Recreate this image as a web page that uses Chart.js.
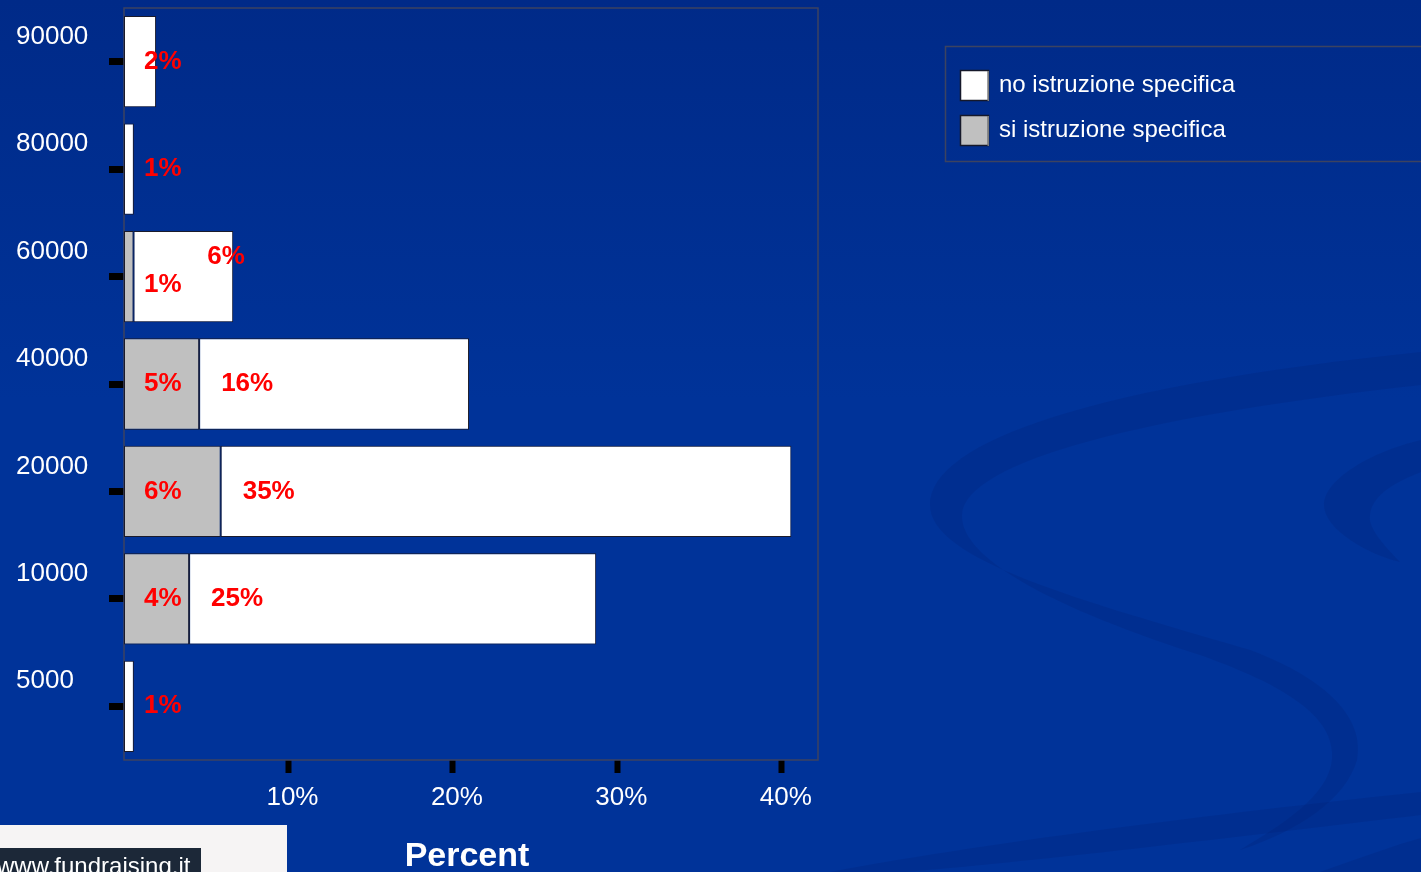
<!DOCTYPE html>
<html>
<head>
<meta charset="utf-8">
<title>Percent</title>
<script src="https://cdn.jsdelivr.net/npm/chart.js@4/dist/chart.umd.min.js"></script>
<style>
    html, body { margin: 0; padding: 0; overflow: hidden; background: #003399; }
    canvas { display: block; }
</style>
</head>
<body>
<canvas id="percentChart" width="1421" height="872"></canvas>
<script>
// values, in percent
const categories = ['90000', '80000', '60000', '40000', '20000', '10000', '5000'];
const siIstruzione = [0, 0, 0.58, 4.57, 5.88, 3.96, 0];
const noIstruzione = [1.95, 0.6, 6.06, 16.41, 34.7, 24.75, 0.6];
const xTickValues = [10, 20, 30, 40];
const seriesNames = ['si istruzione specifica', 'no istruzione specifica'];

const FONT = '"Liberation Sans", Arial, sans-serif';

// blue slide background with the faint swooshes
const slideBackground = {
    id: 'slideBackground',
    beforeDraw(chart) {
        const ctx = chart.ctx;
        ctx.save();
        const g = ctx.createLinearGradient(0, 0, 0, 400);
        g.addColorStop(0, '#002a88');
        g.addColorStop(1, '#003399');
        ctx.fillStyle = g;
        ctx.fillRect(0, 0, chart.width, chart.height);

        ctx.fillStyle = 'rgba(0, 30, 110, 0.2)';
        ctx.beginPath();
        ctx.moveTo(1421, 352);
        ctx.bezierCurveTo(1100, 385, 930, 440, 930, 505);
        ctx.bezierCurveTo(930, 560, 1080, 600, 1250, 650);
        ctx.bezierCurveTo(1330, 680, 1365, 720, 1357, 760);
        ctx.bezierCurveTo(1345, 800, 1300, 830, 1240, 850);
        ctx.bezierCurveTo(1290, 820, 1335, 790, 1332, 752);
        ctx.bezierCurveTo(1330, 710, 1270, 680, 1200, 655);
        ctx.bezierCurveTo(1060, 610, 960, 560, 962, 515);
        ctx.bezierCurveTo(965, 460, 1150, 415, 1421, 385);
        ctx.closePath();
        ctx.fill();

        ctx.beginPath();
        ctx.moveTo(1421, 440);
        ctx.bezierCurveTo(1370, 452, 1324, 480, 1324, 505);
        ctx.bezierCurveTo(1324, 530, 1370, 555, 1400, 562);
        ctx.bezierCurveTo(1378, 540, 1368, 525, 1370, 515);
        ctx.bezierCurveTo(1372, 495, 1395, 482, 1421, 472);
        ctx.closePath();
        ctx.fill();

        ctx.beginPath();
        ctx.moveTo(830, 872);
        ctx.bezierCurveTo(1000, 840, 1250, 810, 1421, 792);
        ctx.lineTo(1421, 815);
        ctx.bezierCurveTo(1250, 835, 1050, 860, 905, 872);
        ctx.closePath();
        ctx.fill();

        ctx.beginPath();
        ctx.moveTo(1320, 872);
        ctx.bezierCurveTo(1360, 858, 1395, 845, 1421, 838);
        ctx.lineTo(1421, 872);
        ctx.closePath();
        ctx.fill();
        ctx.restore();
    },
    beforeDatasetsDraw(chart) {
        const { ctx, chartArea } = chart;
        ctx.save();
        ctx.strokeStyle = '#3c4360';
        ctx.lineWidth = 1.5;
        ctx.strokeRect(chartArea.left, chartArea.top, chartArea.right - chartArea.left, chartArea.bottom - chartArea.top);
        ctx.restore();
    }
};

// red percentage labels inside the bars
const valueLabels = {
    id: 'valueLabels',
    afterDatasetsDraw(chart) {
        const ctx = chart.ctx;
        const greyMeta = chart.getDatasetMeta(0);
        const whiteMeta = chart.getDatasetMeta(1);
        ctx.save();
        ctx.fillStyle = '#ff0000';
        ctx.font = 'bold 26px ' + FONT;
        ctx.textAlign = 'left';
        ctx.textBaseline = 'middle';
        categories.forEach((cat, i) => {
            const grey = greyMeta.data[i].getProps(['x', 'y', 'base'], true);
            const white = whiteMeta.data[i].getProps(['x', 'y', 'base'], true);
            const tight = siIstruzione[i] > 0 && Math.abs(grey.x - grey.base) < 20;
            if (siIstruzione[i] > 0) {
                ctx.fillText(Math.round(siIstruzione[i]) + '%', Math.min(grey.x, grey.base) + 20, grey.y + (tight ? 8 : 0));
            }
            if (noIstruzione[i] > 0) {
                const left = Math.min(white.x, white.base);
                const x = tight ? Math.max(white.x, white.base) - 26 : (siIstruzione[i] > 0 ? left + 22 : left + 20);
                ctx.fillText(Math.round(noIstruzione[i]) + '%', x, white.y + (tight ? -20 : 0));
            }
        });
        ctx.restore();
    }
};

// legend box, axis title and the logo strip
const slideExtras = {
    id: 'slideExtras',
    afterDraw(chart) {
        const ctx = chart.ctx;
        ctx.save();

        ctx.strokeStyle = '#3c4360';
        ctx.lineWidth = 1.5;
        ctx.strokeRect(945.5, 46.5, 520, 115);

        const rows = [1, 0];
        rows.forEach((d, r) => {
            const ds = chart.data.datasets[d];
            const top = 70 + r * 45;
            ctx.fillStyle = ds.backgroundColor;
            ctx.fillRect(960, top, 29, 31);
            ctx.strokeStyle = '#15182a';
            ctx.lineWidth = 1.5;
            ctx.strokeRect(960.5, top + 0.5, 28, 30);
            ctx.fillStyle = '#7a7a7a';
            ctx.fillRect(987.5, top + 1, 1.5, 30);
            ctx.fillStyle = '#ffffff';
            ctx.font = '24px ' + FONT;
            ctx.textAlign = 'left';
            ctx.textBaseline = 'alphabetic';
            ctx.fillText(ds.label, 999, top + 22);
        });

        ctx.fillStyle = '#ffffff';
        ctx.font = 'bold 34px ' + FONT;
        ctx.textAlign = 'center';
        ctx.textBaseline = 'alphabetic';
        ctx.fillText('Percent', 467, 866);

        ctx.fillStyle = '#f6f4f4';
        ctx.fillRect(0, 825, 287, 47);
        ctx.fillStyle = '#1c2838';
        ctx.fillRect(0, 848, 201, 24);
        ctx.fillStyle = '#ffffff';
        ctx.font = '24px ' + FONT;
        ctx.textAlign = 'left';
        ctx.fillText('www.fundraising.it', -3, 874);
        ctx.restore();
    }
};

const ctx = document.getElementById('percentChart').getContext('2d');
const percentChart = new Chart(ctx, {
    type: 'bar',
    data: {
        labels: categories,
        datasets: [{
            label: seriesNames[0],
            data: siIstruzione,
            backgroundColor: '#c0c0c0',
            borderColor: '#1b1b2b',
            borderWidth: 1,
            borderSkipped: false,
            barPercentage: 0.85,
            categoryPercentage: 1
        }, {
            label: seriesNames[1],
            data: noIstruzione,
            backgroundColor: '#ffffff',
            borderColor: '#1b1b2b',
            borderWidth: 1,
            borderSkipped: false,
            barPercentage: 0.85,
            categoryPercentage: 1
        }]
    },
    options: {
        indexAxis: 'y',
        responsive: false,
        animation: false,
        devicePixelRatio: 1,
        layout: {
            padding: { left: 16, top: 8, right: 603, bottom: 0 }
        },
        plugins: {
            legend: { display: false },
            tooltip: { enabled: false }
        },
        scales: {
            x: {
                type: 'linear',
                stacked: true,
                min: 0,
                max: 42.2,
                border: { display: false },
                grid: {
                    drawOnChartArea: false,
                    drawTicks: true,
                    tickLength: 13,
                    tickWidth: 6,
                    tickColor: '#000000'
                },
                ticks: {
                    stepSize: 10,
                    includeBounds: false,
                    color: '#ffffff',
                    font: { family: FONT, size: 26 },
                    padding: 9,
                    labelOffset: 4,
                    maxRotation: 0,
                    callback: v => v + '%'
                },
                afterBuildTicks: axis => {
                    axis.ticks = xTickValues.map(v => ({ value: v }));
                },
                afterFit: axis => {
                    axis.height = 112;
                    axis.paddingLeft = 0;
                    axis.paddingRight = 0;
                }
            },
            y: {
                stacked: true,
                border: { display: false },
                grid: {
                    offset: false,
                    drawOnChartArea: false,
                    drawTicks: true,
                    tickLength: 15,
                    tickWidth: 7,
                    tickColor: '#000000'
                },
                ticks: {
                    color: '#ffffff',
                    font: { family: FONT, size: 26 },
                    crossAlign: 'far',
                    labelOffset: -25
                },
                afterFit: axis => {
                    axis.width = 108;
                    axis.paddingTop = 0;
                    axis.paddingBottom = 0;
                }
            }
        }
    },
    plugins: [slideBackground, valueLabels, slideExtras]
});
</script>
</body>
</html>
